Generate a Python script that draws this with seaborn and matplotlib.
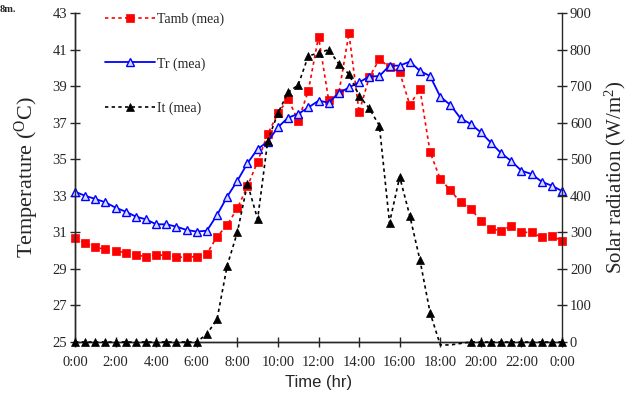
import numpy as np
import pandas as pd
import matplotlib
matplotlib.use("Agg")
import matplotlib.pyplot as plt
from matplotlib.lines import Line2D
import seaborn as sns

# ---------------- data ----------------
hours = [h * 0.5 for h in range(49)]  # 0:00 .. 24:00, half-hourly

tamb = [30.67, 30.40, 30.18, 30.07, 29.98, 29.89, 29.76, 29.67, 29.76, 29.74,
        29.64, 29.64, 29.67, 29.82, 30.77, 31.40, 32.31, 33.52, 34.87, 36.38,
        37.51, 38.30, 37.11, 38.75, 41.70, 38.24, 38.61, 41.89, 37.57, 39.48,
        40.47, 40.03, 39.76, 37.97, 38.84, 35.38, 33.92, 33.30, 32.64, 32.28,
        31.64, 31.18, 31.09, 31.35, 31.00, 31.00, 30.73, 30.80, 30.53]

tr = [33.22, 33.00, 32.83, 32.64, 32.35, 32.13, 31.86, 31.71, 31.44, 31.44,
      31.31, 31.13, 31.04, 31.09, 31.95, 32.95, 33.82, 34.78, 35.56, 35.96,
      36.75, 37.27, 37.48, 37.83, 38.20, 38.10, 38.61, 38.93, 39.21, 39.52,
      39.55, 40.12, 40.12, 40.34, 39.83, 39.55, 38.42, 37.97, 37.24, 36.93,
      36.47, 35.90, 35.33, 34.90, 34.37, 34.19, 33.77, 33.55, 33.26]

it = [0, 0, 0, 0, 0, 0, 0, 0, 0, 0, 0, 0, 0,
      22, 62, 209, 300, 433, 336, 551, 626, 683, 703, 783, 790, 800, 761, 733,
      674, 639, 592, 326, 452, 345, 224, 80, -8, -8, -4,
      0, 0, 0, 0, 0, 0, 0, 0, 0, 0]

xtick_pos = list(range(0, 25, 2))
xtick_labels = ["0:00", "2:00", "4:00", "6:00", "8:00", "10:00", "12:00",
                "14:00", "16:00", "18:00", "20:00", "22:00", "0:00"]
temp_ticks = list(range(25, 44, 2))
rad_ticks = list(range(0, 901, 100))

series_labels = ["Tamb (mea)", "Tr (mea)", "It (mea)"]

df = pd.DataFrame({"hour": hours, "Tamb": tamb, "Tr": tr, "It": it})

# ---------------- style ----------------
sns.set_style("ticks")
plt.rcParams["font.family"] = ["Liberation Serif", "DejaVu Serif"]
plt.rcParams["mathtext.fontset"] = "custom"
plt.rcParams["mathtext.rm"] = "Liberation Serif"
plt.rcParams["mathtext.it"] = "Liberation Serif:italic"
plt.rcParams["axes.linewidth"] = 1.0

fig = plt.figure(figsize=(6.31, 3.97), dpi=100)
ax = fig.add_axes([75 / 631, 1 - 342 / 397, (562 - 75) / 631, (342 - 13) / 397])
ax2 = ax.twinx()

sns.lineplot(data=df, x="hour", y="Tamb", ax=ax, color="#ff0000", lw=1.2,
             linestyle=(0, (2, 2)), marker="s", markersize=5.8,
             markerfacecolor="#ff0000", markeredgecolor="#ff0000",
             markeredgewidth=0.5, clip_on=False, zorder=3)
sns.lineplot(data=df, x="hour", y="Tr", ax=ax, color="#0000ff", lw=1.3,
             linestyle="-", marker="^", markersize=6.2,
             markerfacecolor="#d4dcff", markeredgecolor="#0000ff",
             markeredgewidth=1.0, clip_on=False, zorder=4)
vis = [i for i, v in enumerate(it) if v >= 0]
sns.lineplot(data=df, x="hour", y="It", ax=ax2, color="black", lw=1.2,
             linestyle=(0, (2, 2)), marker="^", markersize=6.2,
             markerfacecolor="black", markeredgecolor="black",
             markeredgewidth=0.5, markevery=vis, clip_on=False, zorder=3)

ax.set_xlim(0, 24)
ax.set_ylim(25, 43)
ax2.set_ylim(0, 900)
ax.set_xticks(xtick_pos)
ax.set_xticklabels(xtick_labels)
ax.set_yticks(temp_ticks)
ax2.set_yticks(rad_ticks)

for a in (ax, ax2):
    a.spines["top"].set_visible(False)
    for s in a.spines.values():
        s.set_linewidth(1.0)
ax.spines["right"].set_visible(False)

ax.tick_params(axis="y", direction="inout", length=7.5, width=1.0,
               labelsize=10.5, pad=2)
ax.tick_params(axis="x", direction="inout", length=7.5, width=1.0,
               labelsize=10.5, pad=6)
ax2.tick_params(axis="y", direction="inout", length=7.5, width=1.0,
                labelsize=10.5, pad=2)

ax.set_xlabel("Time (hr)", family=["Liberation Sans", "DejaVu Sans"],
              fontsize=12, labelpad=5)
ax.set_ylabel("Temperature ($^{\\rm O}$C)", fontsize=16, labelpad=8)
ax2.set_ylabel("Solar radiation (W/m$^{2}$)", fontsize=15, labelpad=8)

hs = []
for h in [ax.lines[0], ax.lines[1], ax2.lines[0]]:
    hs.append(Line2D([], [], color=h.get_color(), lw=h.get_linewidth(),
                     linestyle=h.get_linestyle(), marker=h.get_marker(),
                     markersize=h.get_markersize(),
                     markerfacecolor=h.get_markerfacecolor(),
                     markeredgecolor=h.get_markeredgecolor(),
                     markeredgewidth=h.get_markeredgewidth()))
hs[0].set_dashes((2, 2))
hs[2].set_dashes((2, 2))
leg = ax2.legend(hs, series_labels, loc="upper left",
                 bbox_to_anchor=(0.062, 1.0), frameon=False, fontsize=10,
                 handlelength=3.6, handletextpad=0.15, labelspacing=2.2,
                 borderpad=0, borderaxespad=0, numpoints=1)

fig.text(0.0, 0.988, "8m.", fontsize=7.5, weight="bold", va="top", ha="left")

fig.savefig("out.png", dpi=100)
